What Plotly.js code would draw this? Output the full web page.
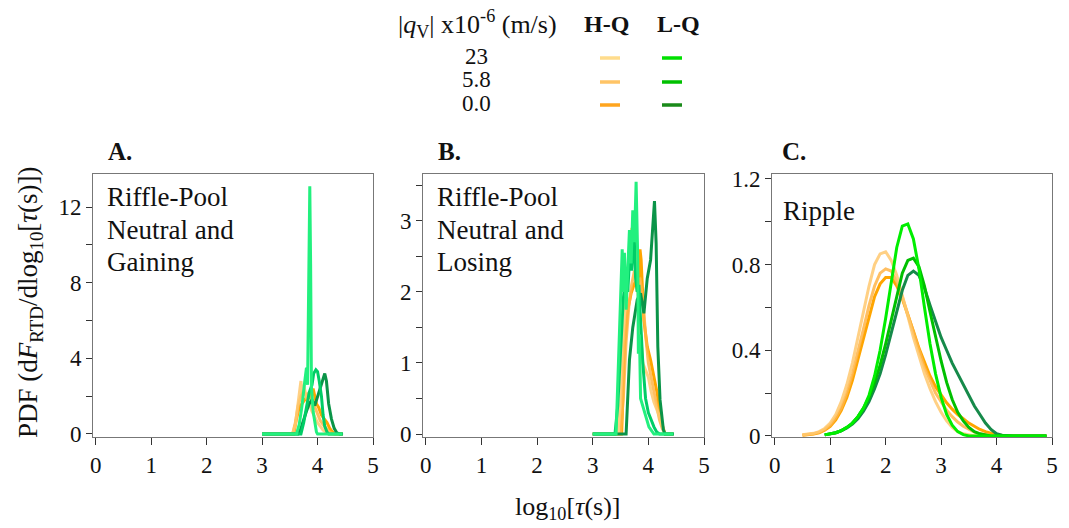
<!DOCTYPE html>
<html>
<head>
<meta charset="utf-8">
<script src="https://cdn.plot.ly/plotly-3.0.1.min.js"></script>
<style>html,body{margin:0;padding:0;background:#fff;}#chart{width:1069px;height:528px;}</style>
</head>
<body>
<div id="chart"></div>
<script>
// ---------------- DATA ----------------
// Legend labels
const fluxLabels = ["23", "5.8", "0.0"];
const groupLabels = ["H-Q", "L-Q"];

// Panel A: Riffle-Pool Neutral and Gaining
const aHQ23x  = [3.0, 3.55, 3.6, 3.65, 3.7, 3.72, 3.75, 3.8, 3.85, 3.9, 3.95, 4.0, 4.05, 4.1, 4.15, 4.2, 4.45];
const aHQ23y  = [0, 0, 0.5, 1.8, 2.8, 2.2, 2.6, 1.9, 1.6, 1.2, 0.9, 0.6, 0.4, 0.2, 0.1, 0, 0];
const aHQ58x  = [3.0, 3.55, 3.6, 3.65, 3.7, 3.75, 3.8, 3.85, 3.9, 3.95, 4.0, 4.05, 4.1, 4.15, 4.2, 4.25, 4.3, 4.45];
const aHQ58y  = [0, 0, 0.6, 1.5, 2.0, 2.3, 2.0, 2.2, 1.8, 1.4, 1.0, 0.7, 0.5, 0.3, 0.15, 0.05, 0, 0];
const aHQ00x  = [3.0, 3.57, 3.62, 3.67, 3.72, 3.77, 3.82, 3.87, 3.92, 3.95, 3.98, 4.02, 4.07, 4.12, 4.17, 4.22, 4.27, 4.32, 4.45];
const aHQ00y  = [0, 0, 0.8, 1.4, 1.6, 1.8, 2.0, 1.9, 2.4, 2.0, 1.6, 1.4, 1.0, 0.8, 0.6, 0.3, 0.1, 0, 0];
const aLQ23x  = [3.0, 3.62, 3.67, 3.72, 3.77, 3.8, 3.82, 3.84, 3.86, 3.875, 3.89, 3.92, 3.95, 3.98, 4.0, 4.45];
const aLQ23y  = [0, 0, 0.5, 1.5, 2.8, 3.5, 2.6, 7.0, 13.1, 9.0, 2.5, 1.2, 0.5, 0.1, 0, 0];
const aLQ58x  = [3.0, 3.7, 3.75, 3.8, 3.85, 3.9, 3.93, 3.97, 4.0, 4.03, 4.07, 4.1, 4.13, 4.17, 4.2, 4.45];
const aLQ58y  = [0, 0, 0.6, 1.4, 2.2, 2.6, 3.2, 3.4, 3.3, 2.8, 2.0, 1.0, 0.4, 0.1, 0, 0];
const aLQ00x  = [3.0, 3.65, 3.7, 3.75, 3.8, 3.85, 3.9, 3.95, 4.0, 4.05, 4.1, 4.13, 4.16, 4.2, 4.25, 4.3, 4.35, 4.4, 4.46];
const aLQ00y  = [0, 0, 0.3, 0.8, 1.2, 1.6, 1.8, 1.5, 2.0, 2.4, 2.9, 3.2, 2.8, 1.6, 0.8, 0.3, 0.05, 0, 0];

// Panel B: Riffle-Pool Neutral and Losing
const bHQ23x  = [3.0, 3.45, 3.5, 3.55, 3.6, 3.65, 3.7, 3.73, 3.76, 3.8, 3.85, 3.9, 3.95, 4.0, 4.05, 4.1, 4.15, 4.2, 4.25, 4.3, 4.45];
const bHQ23y  = [0, 0, 0.4, 1.3, 1.9, 2.5, 2.9, 2.6, 2.8, 2.2, 1.5, 1.0, 0.9, 0.8, 0.6, 0.45, 0.35, 0.25, 0.1, 0, 0];
const bHQ58x  = [3.0, 3.5, 3.55, 3.6, 3.65, 3.7, 3.75, 3.8, 3.85, 3.9, 3.95, 4.0, 4.05, 4.1, 4.15, 4.2, 4.25, 4.3, 4.45];
const bHQ58y  = [0, 0, 0.5, 1.3, 1.8, 2.1, 2.3, 2.0, 2.2, 1.9, 1.4, 1.0, 0.8, 0.6, 0.4, 0.2, 0.08, 0, 0];
const bHQ00x  = [3.0, 3.52, 3.57, 3.63, 3.69, 3.75, 3.8, 3.82, 3.85, 3.87, 3.92, 3.98, 4.04, 4.1, 4.16, 4.22, 4.3, 4.45];
const bHQ00y  = [0, 0, 1.2, 1.75, 1.98, 2.12, 2.17, 2.05, 2.6, 2.45, 1.6, 1.23, 1.04, 0.81, 0.57, 0.2, 0, 0];
const bLQ23x  = [3.0, 3.42, 3.53, 3.55, 3.57, 3.6, 3.66, 3.69, 3.72, 3.75, 3.78, 3.81, 3.82, 3.84, 3.86, 3.92, 4.01, 4.1, 4.45];
const bLQ23y  = [0, 0, 2.6, 2.0, 2.55, 1.75, 2.87, 2.4, 3.15, 2.7, 3.55, 2.45, 1.13, 1.4, 0.5, 0.35, 0.1, 0, 0];
const bLQ58x  = [3.0, 3.4, 3.45, 3.5, 3.55, 3.6, 3.63, 3.67, 3.7, 3.74, 3.77, 3.8, 3.83, 3.86, 3.9, 3.95, 4.0, 4.05, 4.1, 4.15, 4.2, 4.45];
const bLQ58y  = [0, 0, 0.4, 1.2, 1.9, 2.3, 2.0, 2.6, 2.3, 2.9, 2.2, 2.0, 2.1, 1.6, 1.0, 0.5, 0.3, 0.2, 0.1, 0.03, 0, 0];
const bLQ00x  = [3.0, 3.6, 3.66, 3.72, 3.8, 3.86, 3.92, 3.98, 4.04, 4.08, 4.11, 4.14, 4.17, 4.21, 4.27, 4.3, 4.46];
const bLQ00y  = [0, 0, 1.04, 1.5, 1.89, 1.98, 1.70, 2.19, 2.45, 2.92, 3.28, 2.68, 1.23, 0.48, 0.06, 0, 0];

// Panel C: Ripple
const cXo = [0.5, 0.6, 0.7, 0.8, 0.9, 1.0, 1.1, 1.2, 1.3, 1.4, 1.5, 1.6, 1.7, 1.8, 1.9, 2.0, 2.1, 2.2, 2.3, 2.4, 2.5, 2.6, 2.7, 2.8, 2.9, 3.0, 3.1, 3.2, 3.3, 3.4, 3.5, 3.6, 3.7, 3.8, 3.9, 4.0, 4.1, 4.2, 4.3, 4.4, 4.5, 4.6, 4.7, 4.8, 4.9];
const cHQ23y = [0.005, 0.008, 0.012, 0.02, 0.035, 0.06, 0.10, 0.16, 0.24, 0.34, 0.46, 0.58, 0.70, 0.80, 0.85, 0.86, 0.82, 0.75, 0.66, 0.56, 0.46, 0.37, 0.29, 0.22, 0.16, 0.11, 0.07, 0.04, 0.02, 0.01, 0.004, 0, 0, 0, 0, 0, 0, 0, 0, 0, 0, 0, 0, 0, 0];
const cHQ58y = [0.004, 0.006, 0.01, 0.017, 0.03, 0.05, 0.085, 0.13, 0.20, 0.29, 0.39, 0.50, 0.61, 0.70, 0.76, 0.78, 0.77, 0.72, 0.65, 0.57, 0.48, 0.40, 0.32, 0.26, 0.20, 0.16, 0.12, 0.09, 0.065, 0.045, 0.03, 0.018, 0.01, 0.005, 0.002, 0, 0, 0, 0, 0, 0, 0, 0, 0, 0];
const cHQ00y = [0.003, 0.005, 0.009, 0.015, 0.027, 0.045, 0.075, 0.12, 0.18, 0.26, 0.36, 0.46, 0.56, 0.65, 0.71, 0.74, 0.74, 0.70, 0.64, 0.57, 0.49, 0.41, 0.34, 0.28, 0.23, 0.19, 0.155, 0.125, 0.10, 0.08, 0.06, 0.045, 0.03, 0.02, 0.012, 0.006, 0.002, 0, 0, 0, 0, 0, 0, 0, 0];
const cXg = [0.9, 1.0, 1.1, 1.2, 1.3, 1.4, 1.5, 1.6, 1.7, 1.8, 1.9, 2.0, 2.1, 2.2, 2.3, 2.4, 2.5, 2.6, 2.7, 2.8, 2.9, 3.0, 3.1, 3.2, 3.3, 3.4, 3.5, 3.6, 3.7, 3.8, 3.9, 4.0, 4.1, 4.2, 4.3, 4.4, 4.5, 4.6, 4.7, 4.8, 4.9];
const cLQ23y = [0.005, 0.01, 0.015, 0.025, 0.04, 0.06, 0.09, 0.13, 0.19, 0.28, 0.40, 0.55, 0.72, 0.88, 0.98, 0.99, 0.92, 0.78, 0.60, 0.43, 0.29, 0.18, 0.10, 0.05, 0.02, 0.006, 0, 0, 0, 0, 0, 0, 0, 0, 0, 0, 0, 0, 0, 0, 0];
const cLQ58y = [0.005, 0.01, 0.015, 0.025, 0.04, 0.06, 0.09, 0.13, 0.18, 0.25, 0.33, 0.43, 0.54, 0.66, 0.76, 0.82, 0.83, 0.79, 0.70, 0.58, 0.46, 0.35, 0.25, 0.17, 0.11, 0.07, 0.04, 0.02, 0.01, 0.004, 0, 0, 0, 0, 0, 0, 0, 0, 0, 0, 0];
const cLQ00y = [0.005, 0.01, 0.015, 0.024, 0.037, 0.055, 0.08, 0.115, 0.16, 0.22, 0.29, 0.38, 0.48, 0.58, 0.68, 0.75, 0.77, 0.75, 0.69, 0.61, 0.53, 0.46, 0.40, 0.34, 0.29, 0.24, 0.19, 0.14, 0.10, 0.06, 0.03, 0.01, 0.003, 0, 0, 0, 0, 0, 0, 0, 0];

// Axis ticks (labelled major ticks; unlabelled minor ticks halfway)
const xTicks = [0, 1, 2, 3, 4, 5];
const aYTicks = [0, 4, 8, 12];
const bYTicks = [0, 1, 2, 3];
const cYTicks = [0, 0.4, 0.8, 1.2];
const cYText  = ["0", "0.4", "0.8", "1.2"];

// Panel captions
const aCaption = ["Riffle-Pool", "Neutral and", "Gaining"];
const bCaption = ["Riffle-Pool", "Neutral and", "Losing"];
const cCaption = ["Ripple"];

// ---------------- STYLE ----------------
const W = 1069, H = 528;
const FONT = "Liberation Serif";
const colHQ = ["rgba(255,200,110,0.85)", "rgba(255,180,70,0.85)", "#FFA500"];
const colLQ_AB = ["#22F07E", "#00CD66", "#0A9448"];
const colLQ_C  = ["#00EE00", "#00C000", "#168A4A"];
const legLQ = ["#00E000", "#00C000", "#1A8A1A"];
const legHQ = ["#FFDC8C", "#FFC466", "#FFA51E"];
const LW = 3;

function px(x) { return x / W; }
function py(y) { return 1 - y / H; }

function tr(x, y, color, xa, ya) {
  return {x: x, y: y, type: "scatter", mode: "lines", xaxis: xa, yaxis: ya,
          line: {color: color, width: LW}, hoverinfo: "skip", showlegend: false};
}

const traces = [
  tr(aHQ00x, aHQ00y, colHQ[2], "x", "y"),
  tr(aHQ58x, aHQ58y, colHQ[1], "x", "y"),
  tr(aHQ23x, aHQ23y, colHQ[0], "x", "y"),
  tr(aLQ00x, aLQ00y, colLQ_AB[2], "x", "y"),
  tr(aLQ58x, aLQ58y, colLQ_AB[1], "x", "y"),
  tr(aLQ23x, aLQ23y, colLQ_AB[0], "x", "y"),

  tr(bHQ00x, bHQ00y, colHQ[2], "x2", "y2"),
  tr(bHQ58x, bHQ58y, colHQ[1], "x2", "y2"),
  tr(bHQ23x, bHQ23y, colHQ[0], "x2", "y2"),
  tr(bLQ00x, bLQ00y, colLQ_AB[2], "x2", "y2"),
  tr(bLQ58x, bLQ58y, colLQ_AB[1], "x2", "y2"),
  tr(bLQ23x, bLQ23y, colLQ_AB[0], "x2", "y2"),

  tr(cXo, cHQ00y, colHQ[2], "x3", "y3"),
  tr(cXo, cHQ58y, colHQ[1], "x3", "y3"),
  tr(cXo, cHQ23y, colHQ[0], "x3", "y3"),
  tr(cXg, cLQ00y, colLQ_C[2], "x3", "y3"),
  tr(cXg, cLQ58y, colLQ_C[1], "x3", "y3"),
  tr(cXg, cLQ23y, colLQ_C[0], "x3", "y3")
];

const yDom = [py(437), py(174)];
function xAxis(d0, d1, anchor) {
  return {domain: [px(d0), px(d1)], range: [-0.05, 5.0], anchor: anchor,
          tickmode: "array", tickvals: xTicks, ticktext: xTicks.map(String),
          ticks: "outside", ticklen: 7, tickwidth: 1, tickcolor: "#333",
          showline: true, linecolor: "#777", linewidth: 1, mirror: true,
          showgrid: false, zeroline: false, fixedrange: true,
          tickfont: {family: FONT, size: 23, color: "#111"}};
}
function yAxis(range, vals, text, minorStep, anchor) {
  return {domain: yDom, range: range, anchor: anchor,
          tickmode: "array", tickvals: vals, ticktext: text,
          ticks: "outside", ticklen: 6, tickwidth: 1, tickcolor: "#333",
          minor: {tick0: 0, dtick: minorStep, ticks: "outside", ticklen: 6, tickwidth: 1, tickcolor: "#333", showgrid: false},
          showline: true, linecolor: "#777", linewidth: 1, mirror: true,
          showgrid: false, zeroline: false, fixedrange: true,
          tickfont: {family: FONT, size: 23, color: "#111"}};
}

const annotations = [];
function ann(text, x, y, size, opts) {
  annotations.push(Object.assign({text: text, x: px(x), y: py(y), xref: "paper", yref: "paper",
    showarrow: false, xanchor: "left", yanchor: "middle",
    font: {family: FONT, size: size, color: "#111"}}, opts || {}));
}
// Panel letters
ann("<b>A.</b>", 106, 152, 25);
ann("<b>B.</b>", 436, 152, 25);
ann("<b>C.</b>", 780, 152, 25);
// Panel captions (one line each)
const capY = [197, 230, 262];
aCaption.forEach((t, i) => ann(t, 105, capY[i], 27));
bCaption.forEach((t, i) => ann(t, 435, capY[i], 27));
ann(cCaption[0], 781, 211, 27);
// Axis titles
ann("log<sub>10</sub>[<i>τ</i>(s)]", 568, 508, 26, {xanchor: "center"});
ann("PDF (d<i>F</i><sub>RTD</sub>/dlog<sub>10</sub>[<i>τ</i>(s)])", 30, 302, 27,
    {xanchor: "center", textangle: -90});
// Legend
ann("|<i>q</i><sub>V</sub>| x10<sup>-6</sup> (m/s)", 477, 24, 26, {xanchor: "center"});
ann("<b>" + groupLabels[0] + "</b>", 606, 24, 24, {xanchor: "center"});
ann("<b>" + groupLabels[1] + "</b>", 678, 24, 24, {xanchor: "center"});
const rowY = [57, 80, 103];
const segY = [58, 82, 105];
const shapes = [];
fluxLabels.forEach((lab, i) => {
  ann(lab, 476, rowY[i], 23, {xanchor: "center"});
  shapes.push({type: "line", xref: "paper", yref: "paper", x0: px(600), x1: px(620), y0: py(segY[i]), y1: py(segY[i]),
               line: {color: legHQ[i], width: 3.5}});
  shapes.push({type: "line", xref: "paper", yref: "paper", x0: px(662), x1: px(682), y0: py(segY[i]), y1: py(segY[i]),
               line: {color: legLQ[i], width: 3.5}});
});

const layout = {
  width: W, height: H,
  margin: {l: 0, r: 0, t: 0, b: 0},
  paper_bgcolor: "#fff", plot_bgcolor: "#fff",
  font: {family: FONT, size: 22, color: "#111"},
  showlegend: false,
  xaxis: xAxis(93, 373, "y"),
  yaxis: yAxis([-0.16, 13.75], aYTicks, aYTicks.map(String), 2, "x"),
  xaxis2: xAxis(423, 704, "y2"),
  yaxis2: yAxis([-0.042, 3.66], bYTicks, bYTicks.map(String), 0.5, "x2"),
  xaxis3: xAxis(772, 1052, "y3"),
  yaxis3: yAxis([-0.005, 1.223], cYTicks, cYText, 0.2, "x3"),
  annotations: annotations,
  shapes: shapes
};

Plotly.newPlot("chart", traces, layout, {staticPlot: true, displayModeBar: false});
</script>
</body>
</html>
